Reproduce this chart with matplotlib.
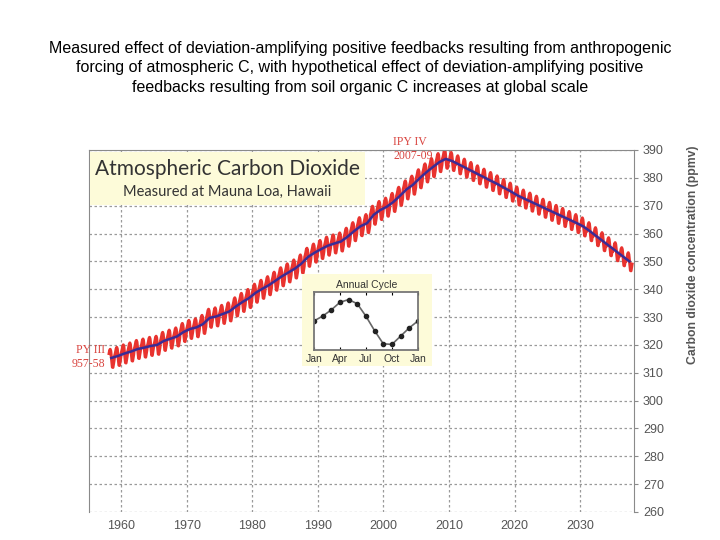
import numpy as np
import matplotlib.pyplot as plt

# annual mean CO2 (ppmv), measured 1958-2009 then hypothetical decline to 2037
years = list(range(1958, 2038))
annual_co2 = [315.3, 316.0, 316.9, 317.6, 318.5, 319.0, 319.6, 320.0, 321.4, 322.2,
              323.0, 324.6, 325.7, 326.3, 327.5, 329.7, 330.2, 331.1, 332.0, 333.8,
              335.4, 336.8, 338.7, 340.1, 341.4, 343.0, 344.6, 346.0, 347.4, 349.2,
              351.6, 353.1, 354.4, 355.6, 356.4, 357.1, 358.8, 360.8, 362.6, 363.7,
              366.7, 368.4, 369.6, 371.3, 373.5, 375.8, 377.5, 379.8, 381.9, 383.8,
              385.6, 386.8,
              386.0, 384.8, 383.6, 382.4, 381.2, 380.0, 378.8, 377.6, 376.3, 375.0,
              373.6, 372.5, 371.4, 370.3, 369.2, 368.1, 367.0, 365.9, 364.8, 363.7,
              362.5, 360.8, 359.0, 357.2, 355.4, 353.6, 351.8, 350.0]

# annual cycle (ppmv departure), Jan..Dec
months = ['Jan', 'Feb', 'Mar', 'Apr', 'May', 'Jun', 'Jul', 'Aug', 'Sep', 'Oct', 'Nov', 'Dec']
cycle = [0.0, 0.7, 1.6, 2.7, 3.1, 2.5, 0.7, -1.4, -3.3, -3.4, -2.2, -1.0]

xticks = [1960, 1970, 1980, 1990, 2000, 2010, 2020, 2030]
yticks = list(range(260, 391, 10))

title = ("Measured effect of deviation-amplifying positive feedbacks resulting from anthropogenic\n"
         "forcing of atmospheric C, with hypothetical effect of deviation-amplifying positive\n"
         "feedbacks resulting from soil organic C increases at global scale")

# monthly series: annual value + seasonal departure
t_month = []
co2_month = []
for yr, val in zip(years, annual_co2):
    for m in range(12):
        if yr == 1958 and m < 2:
            continue
        t_month.append(yr + m / 12.0)
        co2_month.append(val + cycle[m])

plt.rcParams['font.family'] = ['Liberation Sans', 'DejaVu Sans']
fig = plt.figure(figsize=(7.2, 5.4), dpi=100)
fig.text(0.5, 0.925, title, ha='center', va='top', fontsize=11.5, linespacing=1.38)

gray = '#8a8a8a'
ax = fig.add_axes([0.1236, 0.0519, 0.7569, 0.6704])
ax.plot(t_month, co2_month, color='#e8332f', lw=2.2, zorder=2)
ax.plot(np.array(years) + 0.5, annual_co2, color='#3a2c96', lw=1.8, zorder=3)
ax.set_xlim(1955.1, 2038.2)
ax.set_ylim(260, 390)
ax.set_xticks(xticks)
ax.set_yticks(yticks)
ax.grid(True, color='#9a9a9a', ls=(0, (2, 2)), lw=0.9)
ax.yaxis.tick_right()
ax.yaxis.set_label_position('right')
ax.tick_params(axis='y', colors=gray, labelcolor='#555555', labelsize=9, length=3)
ax.tick_params(axis='x', length=0, labelcolor='#555555', labelsize=9, pad=6)
for s in ['left', 'right', 'top']:
    ax.spines[s].set_color(gray)
ax.spines['bottom'].set_visible(False)
ax.set_ylabel('Carbon dioxide concentration (ppmv)', color='#555555', fontsize=8.8,
              fontweight='bold')
ax.yaxis.set_label_coords(1.097, 0.71)

red_txt = dict(color='#d9443f', family='Liberation Serif', fontsize=8.5, va='center',
               clip_on=False)
ax.text(1957.6, 318.0, 'PY III', ha='right', **red_txt)
ax.text(1957.6, 313.3, '957-58', ha='right', **red_txt)
ax.text(2001.5, 393.0, 'IPY IV', ha='left', **red_txt)
ax.text(2001.5, 387.7, '2007-09', ha='left', **red_txt)

# title box
tb = fig.add_axes([0.125, 0.62, 0.382, 0.098])
tb.set_facecolor('#fdfbd9')
tb.set_xticks([])
tb.set_yticks([])
for s in tb.spines.values():
    s.set_visible(False)
tb.text(0.5, 0.68, 'Atmospheric Carbon Dioxide', ha='center', va='center', fontsize=15,
        color='#333333', family=['Lato', 'DejaVu Sans'])
tb.text(0.5, 0.26, 'Measured at Mauna Loa, Hawaii', ha='center', va='center', fontsize=10.5,
        color='#333333', family=['Lato', 'DejaVu Sans'])

# inset background
ib = fig.add_axes([0.4194, 0.3222, 0.1806, 0.1704])
ib.set_facecolor('#fdfbd9')
ib.set_xticks([])
ib.set_yticks([])
for s in ib.spines.values():
    s.set_visible(False)
ib.text(0.5, 0.88, 'Annual Cycle', ha='center', va='center', fontsize=7.5, color='#333333')

ins = fig.add_axes([0.436, 0.3519, 0.1444, 0.1074])
ins.plot(range(13), cycle + cycle[:1], color='#666666', lw=1.2, marker='o', ms=3,
         mfc='#222222', mec='#222222')
ins.set_xlim(0, 12)
ins.set_ylim(-4.2, 4.2)
ins.set_xticks([0, 3, 6, 9, 12])
ins.set_xticklabels(['Jan', 'Apr', 'Jul', 'Oct', 'Jan'])
ins.set_yticks([])
ins.tick_params(axis='x', direction='in', length=2, labelsize=7.5, pad=3,
                labelcolor='#333333', top=True)
for s in ins.spines.values():
    s.set_color('#777777')
    s.set_linewidth(1.3)

fig.savefig('out.png', dpi=100)
